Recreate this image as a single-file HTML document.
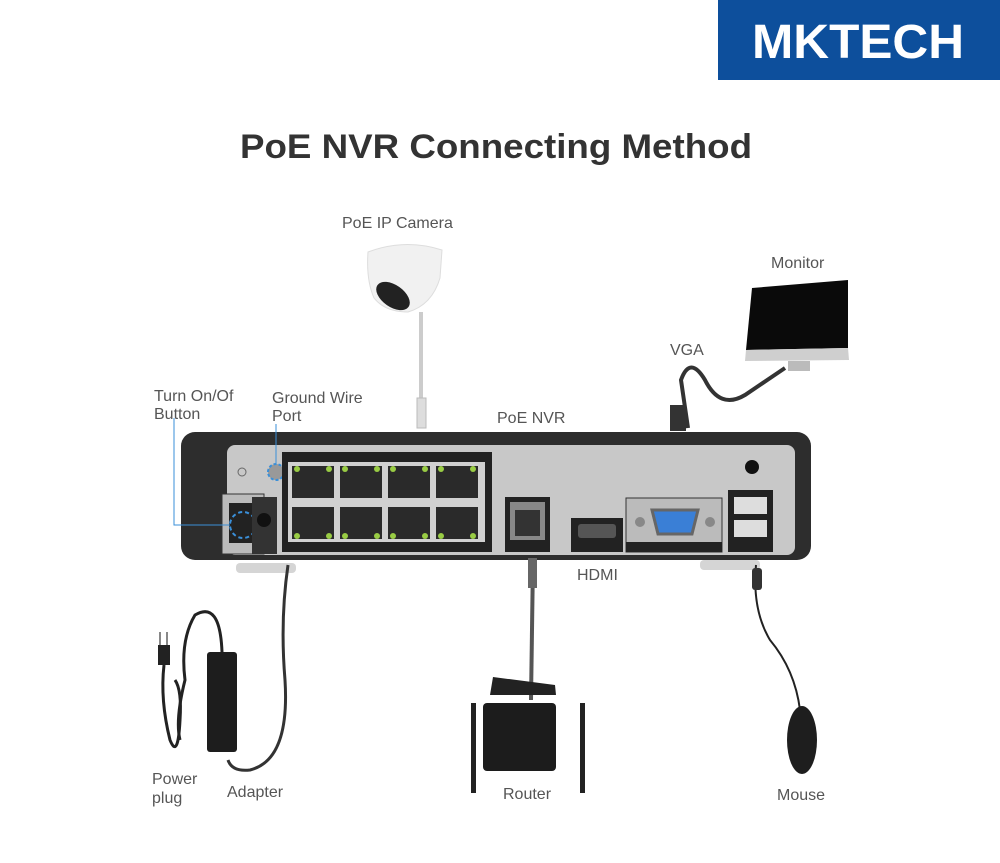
<!DOCTYPE html>
<html><head><meta charset="utf-8"><style>
html,body{margin:0;padding:0;background:#fff;}
svg{display:block;font-family:"Liberation Sans",sans-serif;}
.l{font-size:16px;fill:#555;}
</style></head><body>
<svg width="1000" height="863" viewBox="0 0 1000 863" xmlns="http://www.w3.org/2000/svg">
<rect x="718" y="0" width="282" height="80" fill="#0d4f9c"/>
<text x="858" y="58" text-anchor="middle" font-size="48" font-weight="bold" fill="#fff" textLength="212" lengthAdjust="spacingAndGlyphs">MKTECH</text>
<text x="496" y="158" text-anchor="middle" font-size="34" font-weight="bold" fill="#333" textLength="512" lengthAdjust="spacingAndGlyphs">PoE NVR Connecting Method</text>

<text class="l" x="342" y="228">PoE IP Camera</text>
<text class="l" x="771" y="268">Monitor</text>
<text class="l" x="670" y="355">VGA</text>
<text class="l" x="154" y="401">Turn On/Of</text>
<text class="l" x="154" y="419">Button</text>
<text class="l" x="272" y="403">Ground Wire</text>
<text class="l" x="272" y="421">Port</text>
<text class="l" x="497" y="423">PoE NVR</text>
<text class="l" x="577" y="580">HDMI</text>
<text class="l" x="152" y="784">Power</text>
<text class="l" x="152" y="803">plug</text>
<text class="l" x="227" y="797">Adapter</text>
<text class="l" x="503" y="799">Router</text>
<text class="l" x="777" y="800">Mouse</text>

<!-- camera -->
<path d="M368 252 Q405 238 442 250 L440 278 Q432 305 408 312 Q385 312 374 298 Q366 280 368 252 Z" fill="#f1f1f1" stroke="#ddd"/>
<ellipse cx="393" cy="296" rx="19" ry="11" transform="rotate(35 393 296)" fill="#222"/>
<line x1="421" y1="312" x2="421" y2="400" stroke="#ccc" stroke-width="4"/>
<rect x="417" y="398" width="9" height="30" fill="#ddd" stroke="#bbb"/>

<!-- monitor -->
<path d="M752 288 L848 280 L848 348 L746 350 Z" fill="#0a0a0a"/>
<path d="M746 350 L848 348 L849 360 L745 361 Z" fill="#cfcfcf"/>
<rect x="788" y="361" width="22" height="10" fill="#bbb"/>
<path d="M688 428 L681 380 Q690 355 705 380 Q720 410 745 395 L785 368" fill="none" stroke="#333" stroke-width="4"/>
<rect x="670" y="405" width="16" height="26" fill="#333"/>

<!-- NVR -->
<rect x="181" y="432" width="630" height="128" rx="14" fill="#2d2d2d"/>
<rect x="227" y="445" width="568" height="110" rx="8" fill="#c8c8c8"/>
<rect x="236" y="563" width="60" height="10" rx="4" fill="#d5d5d5"/>
<rect x="700" y="560" width="60" height="10" rx="4" fill="#d5d5d5"/>
<circle cx="276" cy="472" r="8" fill="#999" stroke="#3a8fd8" stroke-width="2" stroke-dasharray="3 2"/>
<circle cx="242" cy="472" r="4" fill="none" stroke="#666"/>
<rect x="222" y="494" width="42" height="60" fill="#bbb" stroke="#333"/>
<rect x="229" y="503" width="28" height="40" fill="#222"/>
<circle cx="243" cy="525" r="13" fill="none" stroke="#3a8fd8" stroke-width="2" stroke-dasharray="4 3"/>
<path d="M174 418 V525 H230" fill="none" stroke="#3a8fd8" stroke-width="1"/>
<line x1="276" y1="424" x2="276" y2="463" stroke="#3a8fd8" stroke-width="1"/>
<rect x="252" y="497" width="25" height="57" fill="#333"/>
<circle cx="264" cy="520" r="7" fill="#111"/>
<rect x="282" y="452" width="210" height="100" fill="#222"/>
<rect x="288" y="462" width="197" height="80" fill="#d0d0d0"/>
<g fill="#2a2a2a">
<rect x="292" y="466" width="42" height="32"/><rect x="340" y="466" width="42" height="32"/><rect x="388" y="466" width="42" height="32"/><rect x="436" y="466" width="42" height="32"/>
<rect x="292" y="507" width="42" height="32"/><rect x="340" y="507" width="42" height="32"/><rect x="388" y="507" width="42" height="32"/><rect x="436" y="507" width="42" height="32"/>
</g>
<g fill="#9c4">
<circle cx="297" cy="469" r="3"/><circle cx="329" cy="469" r="3"/><circle cx="345" cy="469" r="3"/><circle cx="377" cy="469" r="3"/><circle cx="393" cy="469" r="3"/><circle cx="425" cy="469" r="3"/><circle cx="441" cy="469" r="3"/><circle cx="473" cy="469" r="3"/>
<circle cx="297" cy="536" r="3"/><circle cx="329" cy="536" r="3"/><circle cx="345" cy="536" r="3"/><circle cx="377" cy="536" r="3"/><circle cx="393" cy="536" r="3"/><circle cx="425" cy="536" r="3"/><circle cx="441" cy="536" r="3"/><circle cx="473" cy="536" r="3"/>
</g>
<rect x="505" y="497" width="45" height="55" fill="#222"/>
<rect x="510" y="502" width="35" height="38" fill="#888"/>
<rect x="515" y="510" width="25" height="26" fill="#333"/>
<rect x="571" y="518" width="52" height="34" fill="#222"/>
<rect x="578" y="524" width="38" height="14" rx="3" fill="#555"/>
<rect x="626" y="498" width="96" height="54" fill="#bbb" stroke="#333"/>
<rect x="626" y="542" width="96" height="10" fill="#222"/>
<path d="M652 510 H698 L692 534 H658 Z" fill="#3a7fd6" stroke="#666" stroke-width="3"/>
<circle cx="640" cy="522" r="5" fill="#888"/><circle cx="710" cy="522" r="5" fill="#888"/>
<rect x="728" y="490" width="45" height="62" fill="#222"/>
<rect x="734" y="497" width="33" height="17" fill="#ddd"/>
<rect x="734" y="520" width="33" height="17" fill="#ddd"/>
<circle cx="752" cy="467" r="7" fill="#111"/>

<!-- adapter -->
<path d="M288 565 Q280 620 285 680 Q290 760 250 770 Q232 772 228 760" fill="none" stroke="#333" stroke-width="3"/>
<rect x="207" y="652" width="30" height="100" rx="3" fill="#1d1d1d"/>
<path d="M222 652 Q220 600 195 615 Q180 640 185 680 Q175 720 180 740" fill="none" stroke="#222" stroke-width="3"/>
<path d="M158 645 h12 v20 h-12 z" fill="#222"/>
<line x1="160" y1="632" x2="160" y2="645" stroke="#888" stroke-width="2"/>
<line x1="167" y1="632" x2="167" y2="645" stroke="#888" stroke-width="2"/>
<path d="M164 665 Q160 700 170 740 Q178 760 180 720 Q182 690 175 680" fill="none" stroke="#222" stroke-width="3"/>

<!-- router -->
<line x1="533" y1="560" x2="531" y2="700" stroke="#555" stroke-width="4"/>
<rect x="528" y="558" width="9" height="30" fill="#666"/>
<path d="M493 677 L555 685 L556 695 L490 695 Z" fill="#222"/>
<rect x="483" y="703" width="73" height="68" rx="4" fill="#1c1c1c"/>
<rect x="471" y="703" width="5" height="90" fill="#222"/>
<rect x="580" y="703" width="5" height="90" fill="#222"/>

<!-- mouse -->
<path d="M756 565 Q752 610 770 640 Q795 670 800 710" fill="none" stroke="#222" stroke-width="2"/>
<rect x="752" y="568" width="10" height="22" rx="3" fill="#333"/>
<ellipse cx="802" cy="740" rx="15" ry="34" fill="#1e1e1e"/>
</svg>
</body></html>
